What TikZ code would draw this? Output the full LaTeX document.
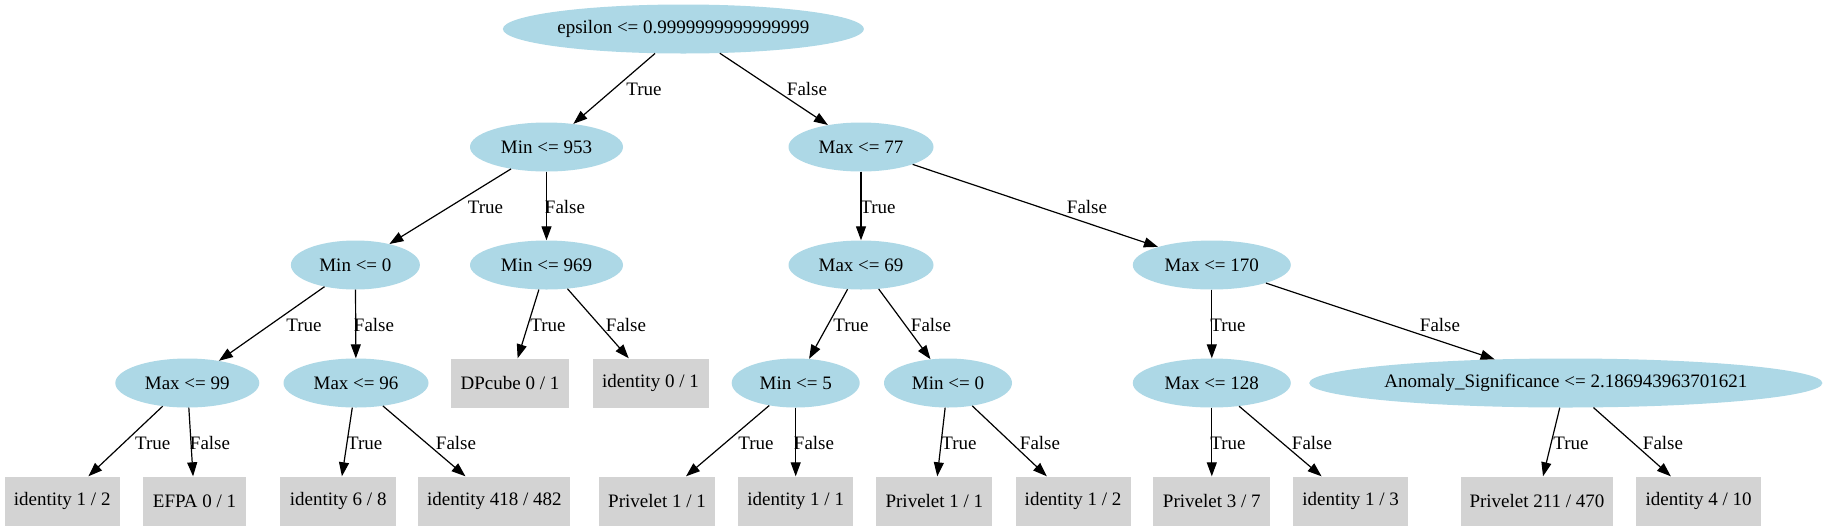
\documentclass[tikz,border=0pt]{standalone}
\usepackage{fontspec}
\setmainfont{Liberation Serif}
\usetikzlibrary{shapes.geometric,arrows.meta}
\definecolor{lblue}{HTML}{ADD8E6}
\definecolor{lgray}{HTML}{D3D3D3}
\begin{document}
\begin{tikzpicture}[x=1pt,y=-1pt,font=\fontsize{19}{22}\selectfont,
  dec/.style={ellipse,fill=lblue,inner sep=0pt,minimum height=49pt},
  leaf/.style={rectangle,fill=lgray,inner sep=0pt,minimum height=49pt},
  edge/.style={-{Triangle[length=14pt,width=10pt]},line width=1.2pt},
  lbl/.style={inner sep=0pt}]
\useasboundingbox[fill=white] (0,0) rectangle (1824,531);
% level 1
\node[dec,minimum width=361pt] (n0) at (683.4,29) {epsilon <= 0.9999999999999999};
% level 2
\node[dec,minimum width=153pt] (n1) at (546.5,147) {Min <= 953};
\node[dec,minimum width=145pt] (n2) at (861,147) {Max <= 77};
% level 3
\node[dec,minimum width=129pt] (n3) at (355.4,265) {Min <= 0};
\node[dec,minimum width=153pt] (n4) at (546.5,265) {Min <= 969};
\node[dec,minimum width=145pt] (n5) at (861,265) {Max <= 69};
\node[dec,minimum width=158pt] (n6) at (1211.8,265) {Max <= 170};
% level 4
\node[dec,minimum width=144pt] (n7) at (187.3,383) {Max <= 99};
\node[dec,minimum width=145pt] (n8) at (356,383) {Max <= 96};
\node[leaf,minimum width=117.5pt] (l1) at (510,383) {DPcube 0 / 1};
\node[leaf,minimum width=116pt] (l2) at (650.5,383) {identity 0 / 1};
\node[dec,minimum width=128pt] (n9) at (795.7,383) {Min <= 5};
\node[dec,minimum width=128pt] (n10) at (948,383) {Min <= 0};
\node[dec,minimum width=158pt] (n11) at (1211.8,383) {Max <= 128};
\node[dec,minimum width=505pt] (n12) at (1565.8,383) {Anomaly\_Significance <= 2.186943963701621};
% level 5
\node[leaf,minimum width=115pt] (l3) at (62.2,501) {identity 1 / 2};
\node[leaf,minimum width=103pt] (l4) at (194.6,501) {EFPA 0 / 1};
\node[leaf,minimum width=116pt] (l5) at (338.2,501) {identity 6 / 8};
\node[leaf,minimum width=152pt] (l6) at (494.4,501) {identity 418 / 482};
\node[leaf,minimum width=116pt] (l7) at (657,501) {Privelet 1 / 1};
\node[leaf,minimum width=115pt] (l8) at (795.7,501) {identity 1 / 1};
\node[leaf,minimum width=116pt] (l9) at (934.4,501) {Privelet 1 / 1};
\node[leaf,minimum width=115pt] (l10) at (1073,501) {identity 1 / 2};
\node[leaf,minimum width=117pt] (l11) at (1211.8,501) {Privelet 3 / 7};
\node[leaf,minimum width=115pt] (l12) at (1350.6,501) {identity 1 / 3};
\node[leaf,minimum width=152pt] (l13) at (1537,501) {Privelet 211 / 470};
\node[leaf,minimum width=125pt] (l14) at (1698.6,501) {identity 4 / 10};
% edges
\foreach \a/\b in {n0/n1,n0/n2,n1/n3,n1/n4,n2/n5,n2/n6,n3/n7,n3/n8,n4/l1,n4/l2,
  n5/n9,n5/n10,n6/n11,n6/n12,n7/l3,n7/l4,n8/l5,n8/l6,n9/l7,n9/l8,n10/l9,n10/l10,
  n11/l11,n11/l12,n12/l13,n12/l14}
  \draw[edge] (\a) -- (\b);
% edge labels
\node[lbl] (t01) at (644,89) {True};
\node[lbl] (f02) at (807,89) {False};
\node[lbl] (t13) at (485.5,207) {True};
\node[lbl] (f14) at (565,207) {False};
\node[lbl] (t25) at (878,207) {True};
\node[lbl] (f26) at (1087,207) {False};
\node[lbl] (t37) at (304,325) {True};
\node[lbl] (f38) at (374,325) {False};
\node[lbl] (t4a) at (548,325) {True};
\node[lbl] (f4b) at (626,325) {False};
\node[lbl] (t59) at (851,325) {True};
\node[lbl] (f510) at (931,325) {False};
\node[lbl] (t611) at (1228,325) {True};
\node[lbl] (f612) at (1440,325) {False};
\node[lbl] (t7) at (152.7,443) {True};
\node[lbl] (f7) at (210,443) {False};
\node[lbl] (t8) at (364.7,443) {True};
\node[lbl] (f8) at (456,443) {False};
\node[lbl] (t9) at (756,443) {True};
\node[lbl] (f9) at (814,443) {False};
\node[lbl] (t10) at (959,443) {True};
\node[lbl] (f10) at (1040,443) {False};
\node[lbl] (t11) at (1228,443) {True};
\node[lbl] (f11) at (1312,443) {False};
\node[lbl] (t12) at (1571,443) {True};
\node[lbl] (f12) at (1663,443) {False};
\end{tikzpicture}
\end{document}
